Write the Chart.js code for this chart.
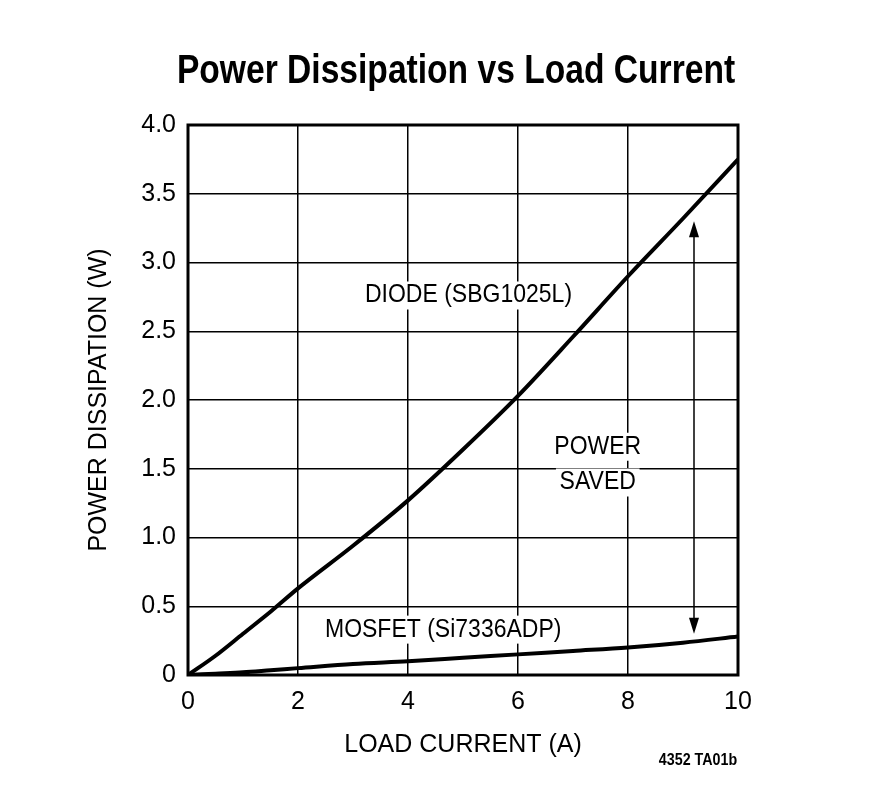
<!DOCTYPE html><html><head><style>html,body{margin:0;background:#fff}#w{width:872px;height:797px}</style>
<script src="https://cdn.jsdelivr.net/npm/chart.js@4"></script></head><body><div id="w"><canvas id="c"></canvas></div><script>
const xCurrent=[0,0.5,1,1.5,2,3,4,5,6,7,8,9,10];
const diodeW=[0,0.14,0.3,0.46,0.63,0.94,1.27,1.64,2.03,2.46,2.9,3.32,3.75];
const mosfetW=[0,0.01,0.02,0.035,0.05,0.08,0.1,0.125,0.15,0.175,0.2,0.235,0.28];
const F='"Liberation Sans",Arial,sans-serif';
function nt(c,t,x,y,bg,sx){c.save();c.translate(x,y);c.scale(sx||0.84,1);if(bg){const w=c.measureText(t).width;c.fillStyle='#fff';c.fillRect(-w/2-4,-14,w+8,28);c.fillStyle='#000';}c.fillText(t,0,0);c.restore();}
const ann={id:'ann',afterDraw(ch){const c=ch.ctx,x=ch.scales.x,y=ch.scales.y;c.save();c.fillStyle='#000';c.textAlign='center';c.textBaseline='middle';
c.font='bold 40px '+F;nt(c,'Power Dissipation vs Load Current',456,72);
c.font='25px '+F;nt(c,'DIODE (SBG1025L)',x.getPixelForValue(5.1),y.getPixelForValue(2.76),1,0.92);
nt(c,'POWER',x.getPixelForValue(7.45),y.getPixelForValue(1.66),1,0.92);nt(c,'SAVED',x.getPixelForValue(7.45),y.getPixelForValue(1.40),1,0.92);
nt(c,'MOSFET (Si7336ADP)',x.getPixelForValue(4.64),y.getPixelForValue(0.33),1,0.92);
c.font='bold 17px '+F;nt(c,'4352 TA01b',698,760);
const ax=x.getPixelForValue(9.2),y1=y.getPixelForValue(3.3),y2=y.getPixelForValue(0.3);
c.strokeStyle='#000';c.lineWidth=1.5;c.beginPath();c.moveTo(ax,y1+4);c.lineTo(ax,y2-4);c.stroke();
c.beginPath();c.moveTo(ax,y1);c.lineTo(ax-5,y1+16);c.lineTo(ax+5,y1+16);c.closePath();c.fill();
c.beginPath();c.moveTo(ax,y2);c.lineTo(ax-5,y2-16);c.lineTo(ax+5,y2-16);c.closePath();c.fill();
c.lineWidth=3;c.strokeRect(ch.chartArea.left,ch.chartArea.top,ch.chartArea.right-ch.chartArea.left,ch.chartArea.bottom-ch.chartArea.top);c.restore();}};
new Chart(document.getElementById('c'),{type:'scatter',data:{datasets:[
{data:xCurrent.map((v,i)=>({x:v,y:diodeW[i]})),showLine:true,borderColor:'#000',borderWidth:4,pointRadius:0,cubicInterpolationMode:'monotone'},
{data:xCurrent.map((v,i)=>({x:v,y:mosfetW[i]})),showLine:true,borderColor:'#000',borderWidth:4,pointRadius:0,cubicInterpolationMode:'monotone'}]},
options:{responsive:true,maintainAspectRatio:false,animation:false,layout:{padding:{top:125,right:134,left:80,bottom:33}},
plugins:{legend:{display:false},tooltip:{enabled:false}},
scales:{x:{type:'linear',min:0,max:10,afterFit(s){s.height=89},grid:{color:'#000',lineWidth:1.5,drawTicks:false},border:{display:false},
ticks:{stepSize:2,color:'#000',font:{family:F,size:25},padding:12},
title:{display:true,text:'LOAD CURRENT (A)',color:'#000',font:{family:F,size:25},padding:{top:4}}},
y:{min:0,max:4,afterFit(s){s.width=108},grid:{color:'#000',lineWidth:1.5,drawTicks:false},border:{display:false},
ticks:{stepSize:0.5,color:'#000',font:{family:F,size:25},padding:12,callback:v=>v===0?'0':v.toFixed(1)},
title:{display:true,text:'POWER DISSIPATION (W)',color:'#000',font:{family:F,size:25},padding:{bottom:4}}}}},plugins:[ann]});
</script></body></html>
